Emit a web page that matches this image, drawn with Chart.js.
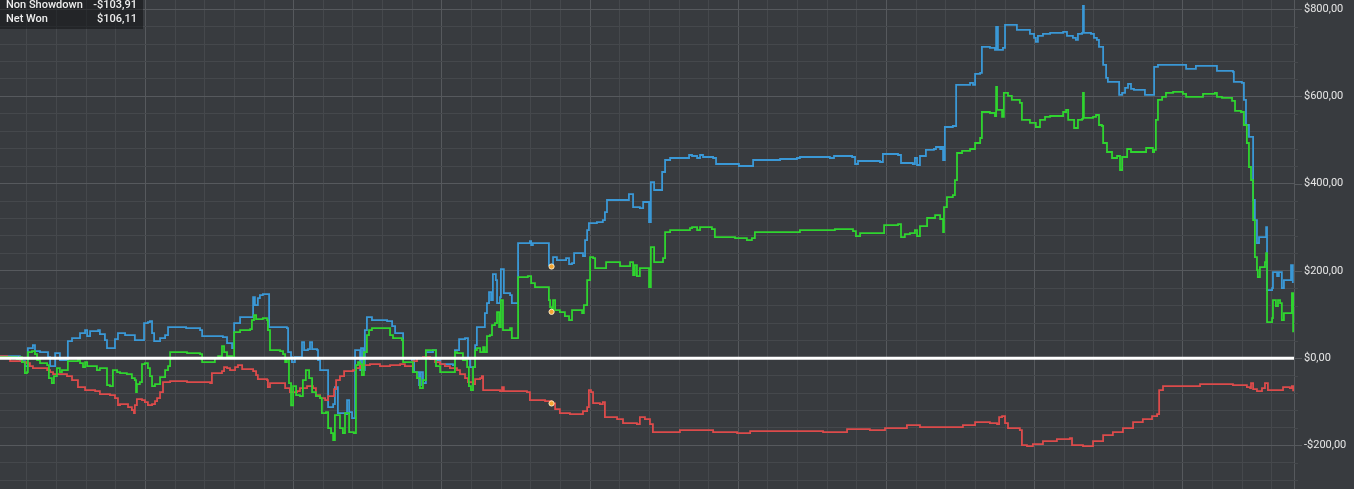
<!DOCTYPE html>
<html>
<head>
<meta charset="utf-8">
<title>Winnings graph</title>
<script src="https://cdn.jsdelivr.net/npm/chart.js@4.4.0/dist/chart.umd.min.js"></script>
<style>
  html, body { margin: 0; padding: 0; background: #383b3f; overflow: hidden; }
  #wrap { width: 1354px; height: 489px; }
</style>
</head>
<body>
<div id="wrap"><canvas id="graph" width="1354" height="489"></canvas></div>
<script>
/* ===================== DATA ===================== */

// Showdown winnings (blue)
const showdownHands = [
  9, 66, 76, 93, 103, 120, 127, 144, 171, 178,
  188, 195, 205, 211, 232, 238, 252, 279, 296, 303,
  313, 333, 340, 346, 363, 370, 387, 397, 407, 431,
  464, 481, 495, 508, 515, 522, 529, 542, 549, 566,
  576, 637, 684, 691, 761, 775, 792, 799, 819, 859,
  863, 869, 879, 886, 896, 913, 917, 977, 981, 991,
  994, 1004, 1021, 1028, 1035, 1048, 1055, 1062, 1079, 1082,
  1089, 1109, 1116, 1133, 1139, 1149, 1176, 1180, 1187, 1197,
  1203, 1207, 1220, 1224, 1227, 1234, 1240, 1247, 1264, 1315,
  1332, 1342, 1365, 1369, 1399, 1406, 1416, 1423, 1429, 1436,
  1446, 1470, 1480, 1494, 1537, 1544, 1551, 1558, 1578, 1588,
  1595, 1605, 1612, 1618, 1639, 1645, 1652, 1659, 1666, 1672,
  1682, 1686, 1696, 1699, 1706, 1709, 1730, 1736, 1750, 1757,
  1797, 1801, 1807, 1855, 1861, 1870, 1875, 1888, 1919, 1929,
  1939, 1946, 1976, 1983, 1990, 1996, 2023, 2043, 2050, 2057,
  2124, 2131, 2138, 2145, 2168, 2179, 2192, 2199, 2205, 2216,
  2232, 2243, 2253, 2270, 2327, 2334, 2344, 2361, 2371, 2381,
  2415, 2425, 2496, 2502, 2540, 2550, 2641, 2698, 2708, 2786,
  2809, 2823, 2884, 2894, 2904, 2978, 2988, 3039, 3049, 3089,
  3096, 3103, 3113, 3133, 3160, 3167, 3181, 3187, 3191, 3197,
  3224, 3235, 3282, 3292, 3299, 3316, 3322, 3349, 3366, 3370,
  3373, 3376, 3393, 3400, 3417, 3440, 3484, 3498, 3504, 3511,
  3528, 3552, 3596, 3609, 3629, 3639, 3646, 3660, 3663, 3666,
  3690, 3700, 3710, 3717, 3727, 3731, 3741, 3747, 3778, 3785,
  3795, 3805, 3815, 3825, 3835, 3865, 3872, 3899, 3903, 3916,
  4000, 4011, 4034, 4044, 4108, 4115, 4169, 4172, 4199, 4206,
  4213, 4223, 4233, 4237, 4243, 4250, 4257, 4277, 4281, 4284,
  4301, 4304, 4318, 4324, 4331, 4334, 4341, 4361, 4365, 4371
];
const showdownValues = [
  4.6, 4.6, -6.9, -18.4, 22.9, 29.8, 16.1, 13.8, 2.3, -18.4,
  -18.4, 11.5, 11.5, -4.6, -4.6, 39, 45.9, 57.4, 64.2, 50.5,
  61.9, 61.9, 64.2, 55.1, 41.3, 22.9, 22.9, 43.6, 57.4, 52.8,
  41.3, 41.3, 80.3, 82.6, 84.9, 57.4, 39, 39, 45.9, 52.8,
  71.1, 68.8, 64.2, 50.5, 48.2, 34.4, 22.9, 80.3, 94.1, 94.1,
  139.9, 121.6, 137.6, 144.5, 146.8, 146.8, 71.1, 68.8, 13.8, 2.3,
  -9.2, 2.3, 2.3, 36.7, 18.4, 20.6, 36.7, 20.6, 18.4, -4.6,
  -27.5, -27.5, -112.4, -105.5, -66.5, -126.2, -128.5, -96.3, -123.9, -137.6,
  -137.6, 18.4, 18.4, -27.5, 22.9, -27.5, 64.2, 94.1, 87.2, 84.9,
  73.4, 57.4, 57.4, 0, -4.6, -32.1, -32.1, -61.9, -32.1, -57.4,
  13.8, 18.4, -4.6, -13.8, -16.1, 18.4, 18.4, 43.6, 45.9, 0,
  -20.6, -20.6, 29.8, 71.1, 71.1, 103.2, 126.2, 151.4, 133.1, 192.7,
  178.9, 126.2, 139.9, 204.2, 204.2, 149.1, 144.5, 126.2, 126.2, 263.8,
  268.4, 259.2, 263.8, 263.8, 213.3, 210.02, 231.7, 224.8, 229.4, 215.6,
  217.9, 240.9, 234.0, 270.7, 293.6, 309.7, 312.0, 316.6, 334.9, 362.5,
  362.5, 376.2, 376.2, 346.4, 344.1, 357.9, 357.9, 312.0, 403.7, 385.4,
  385.4, 426.7, 454.2, 458.8, 458.8, 465.7, 463.4, 458.8, 465.7, 461.1,
  458.8, 445.0, 445.0, 440.4, 440.4, 454.2, 456.5, 458.8, 461.1, 461.1,
  458.8, 463.4, 461.1, 445.0, 451.9, 449.6, 468.0, 465.7, 447.3, 445.0,
  458.8, 442.7, 463.4, 477.2, 479.4, 484.0, 479.4, 484.0, 454.2, 529.9,
  532.2, 626.3, 630.9, 626.3, 651.5, 653.8, 713.4, 711.1, 706.6, 759.3,
  759.3, 706.6, 711.1, 763.9, 763.9, 752.4, 743.3, 734.1, 724.9, 738.7,
  743.3, 745.6, 747.8, 738.7, 734.1, 729.5, 743.3, 745.6, 807.5, 745.6,
  743.3, 734.1, 729.5, 713.4, 713.4, 672.1, 642.3, 633.1, 633.1, 603.3,
  607.9, 619.4, 628.6, 617.1, 614.8, 614.8, 603.3, 603.3, 667.6, 672.1,
  672.1, 663.0, 663.0, 669.9, 669.9, 658.4, 656.1, 633.1, 630.9, 591.9,
  534.5, 507.0, 507.0, 362.5, 316.6, 263.8, 277.6, 277.6, 300.5, 156.0,
  160.6, 197.3, 188.1, 197.3, 197.3, 160.6, 178.9, 178.9, 213.3, 172.1
];

// Net won (green)
const netHands = [
  9, 43, 66, 76, 83, 93, 100, 103, 117, 127,
  134, 144, 168, 174, 184, 191, 201, 211, 218, 232,
  238, 272, 279, 289, 296, 303, 323, 336, 346, 363,
  370, 380, 390, 404, 414, 437, 454, 464, 468, 471,
  481, 488, 498, 508, 515, 522, 532, 549, 566, 576,
  583, 640, 684, 691, 724, 734, 745, 758, 765, 775,
  785, 792, 799, 819, 853, 859, 866, 873, 896, 910,
  913, 920, 954, 964, 971, 977, 984, 991, 998, 1008,
  1021, 1031, 1041, 1052, 1062, 1075, 1089, 1095, 1109, 1116,
  1126, 1133, 1139, 1149, 1156, 1166, 1173, 1180, 1187, 1203,
  1210, 1217, 1224, 1230, 1237, 1247, 1254, 1264, 1315, 1325,
  1335, 1365, 1369, 1392, 1402, 1416, 1426, 1436, 1446, 1473,
  1480, 1494, 1537, 1544, 1551, 1561, 1571, 1585, 1591, 1598,
  1605, 1612, 1618, 1629, 1639, 1645, 1652, 1662, 1669, 1679,
  1686, 1693, 1699, 1706, 1730, 1736, 1753, 1757, 1790, 1801,
  1814, 1855, 1861, 1865, 1870, 1875, 1882, 1898, 1915, 1929,
  1939, 1973, 1979, 1990, 2000, 2010, 2017, 2030, 2043, 2054,
  2067, 2101, 2125, 2135, 2145, 2151, 2158, 2168, 2192, 2199,
  2205, 2216, 2236, 2246, 2253, 2270, 2313, 2337, 2344, 2361,
  2371, 2411, 2421, 2489, 2529, 2546, 2556, 2708, 2786, 2826,
  2887, 2897, 2911, 2978, 2992, 3039, 3049, 3062, 3079, 3096,
  3103, 3113, 3137, 3164, 3181, 3187, 3191, 3194, 3204, 3224,
  3231, 3238, 3255, 3282, 3299, 3316, 3322, 3349, 3366, 3370,
  3373, 3383, 3390, 3396, 3410, 3423, 3450, 3457, 3484, 3504,
  3518, 3535, 3552, 3596, 3606, 3613, 3633, 3646, 3660, 3663,
  3666, 3697, 3707, 3717, 3727, 3731, 3744, 3761, 3778, 3788,
  3795, 3812, 3825, 3865, 3876, 3899, 3903, 3909, 3916, 3930,
  3943, 3967, 4000, 4011, 4034, 4068, 4108, 4115, 4132, 4166,
  4176, 4196, 4206, 4216, 4223, 4230, 4237, 4243, 4250, 4253,
  4260, 4277, 4281, 4284, 4301, 4304, 4314, 4321, 4328, 4334,
  4341, 4361, 4368, 4372
];
const netValues = [
  2.3, 2.3, -2.3, 2.3, -9.2, -34.4, -32.1, 13.8, 16.1, 9.2,
  -4.6, -11.5, -16.1, -45.9, -57.4, -41.3, -22.9, -32.1, -27.5, -27.5,
  -6.9, -4.6, -11.5, -20.6, -9.2, -18.4, -18.4, -27.5, -22.9, -22.9,
  -61.9, -64.2, -27.5, -32.1, -34.4, -36.7, -45.9, -50.5, -78.0, -59.6,
  -55.1, -13.8, -11.5, -22.9, -41.3, -64.2, -59.6, -43.6, -27.5, -18.4,
  13.8, 11.5, 9.2, -9.2, -9.2, 0, 4.6, 27.5, 13.8, 4.6,
  4.6, 0, 59.6, 64.2, 66.5, 87.2, 98.6, 89.5, 91.8, 87.2,
  64.2, 18.4, 16.1, 9.2, -9.2, 0, -57.4, -108.2, -64.2, -84.9,
  -87.2, -50.5, -27.5, -45.9, -78.0, -87.2, -91.8, -126.2, -123.9, -160.6,
  -172.1, -188.1, -130.8, -130.8, -160.6, -172.1, -126.2, -126.2, -169.8, -172.1,
  -16.1, -9.2, -13.8, -39.0, 13.8, 52.8, 64.2, 68.8, 68.8, 52.8,
  45.9, 41.3, -9.2, -9.2, -32.1, -45.9, -68.8, -50.5, 18.4, 18.4,
  -18.4, -32.1, -32.1, 13.8, 11.5, 11.5, -4.6, -20.6, -64.2, -73.4,
  -20.6, 18.4, 22.9, 13.8, 25.2, 13.8, 50.5, 52.8, 75.7, 80.3,
  105.5, 71.1, 133.1, 64.2, 68.8, 45.9, 45.9, 185.8, 188.1, 172.1,
  162.9, 162.9, 133.1, 117.0, 106.11, 133.1, 110.1, 105.5, 96.3, 87.2,
  110.1, 103.2, 121.6, 178.9, 231.7, 229.4, 206.5, 206.5, 206.5, 220.2,
  220.2, 211.0, 211.0, 220.2, 190.4, 213.3, 188.1, 206.5, 206.5, 162.9,
  254.6, 220.2, 220.2, 229.4, 289.0, 293.6, 293.6, 298.2, 300.5, 293.6,
  300.5, 295.9, 277.6, 275.3, 270.7, 275.3, 289.0, 293.6, 293.6, 295.9,
  291.3, 279.9, 286.8, 286.8, 305.1, 307.4, 277.6, 284.5, 286.8, 293.6,
  279.9, 302.8, 321.2, 328.0, 318.9, 318.9, 289.0, 346.4, 369.3, 373.9,
  408.3, 470.3, 474.9, 479.4, 493.2, 504.7, 564.3, 562.0, 555.1, 621.7,
  568.9, 568.9, 552.9, 607.9, 601.0, 591.9, 585.0, 546.0, 539.1, 529.9,
  546.0, 552.9, 555.1, 564.3, 568.9, 546.0, 527.6, 546.0, 548.3, 607.9,
  550.6, 552.9, 557.4, 534.5, 532.2, 493.2, 472.6, 458.8, 463.4, 431.3,
  461.1, 479.4, 472.6, 472.6, 481.7, 472.6, 477.2, 546.0, 591.9, 598.7,
  607.9, 610.2, 605.6, 598.7, 598.7, 605.6, 607.9, 598.7, 596.4, 589.6,
  566.6, 564.3, 534.5, 493.2, 438.2, 408.3, 316.6, 231.7, 201.9, 185.8,
  208.8, 220.2, 240.9, 82.6, 91.8, 133.1, 119.3, 133.1, 126.2, 87.2,
  103.2, 103.2, 149.1, 59.6
];

// Non showdown winnings (red)
const nonShowdownHands = [
  9, 33, 43, 66, 83, 100, 110, 120, 168, 178,
  188, 235, 252, 272, 296, 330, 346, 380, 397, 407,
  414, 441, 454, 461, 464, 471, 488, 498, 508, 522,
  532, 539, 549, 559, 583, 640, 718, 724, 758, 765,
  775, 785, 802, 812, 826, 863, 873, 879, 910, 913,
  920, 960, 971, 987, 1011, 1021, 1045, 1065, 1075, 1089,
  1106, 1116, 1129, 1136, 1143, 1156, 1170, 1200, 1210, 1224,
  1257, 1291, 1325, 1359, 1375, 1392, 1402, 1416, 1436, 1460,
  1477, 1494, 1510, 1527, 1551, 1561, 1578, 1588, 1605, 1612,
  1629, 1635, 1639, 1696, 1703, 1709, 1787, 1797, 1848, 1870,
  1882, 1898, 1932, 1976, 1990, 1996, 2003, 2010, 2033, 2043,
  2050, 2091, 2111, 2158, 2168, 2185, 2202, 2212, 2303, 2371,
  2415, 2496, 2540, 2685, 2786, 2867, 2944, 2988, 2995, 3062,
  3069, 3113, 3191, 3258, 3299, 3349, 3373, 3380, 3390, 3400,
  3410, 3450, 3457, 3474, 3494, 3528, 3575, 3619, 3626, 3663,
  3697, 3731, 3764, 3798, 3832, 3865, 3896, 3913, 3920, 3933,
  4000, 4058, 4125, 4169, 4216, 4227, 4230, 4237, 4250, 4267,
  4277, 4287, 4301, 4338, 4361, 4368, 4372
];
const nonShowdownValues = [
  4.6, 2.3, -6.9, -6.9, -9.2, -11.5, -18.4, -22.9, -27.5, -32.1,
  -36.7, -41.3, -50.5, -66.5, -73.4, -75.7, -82.6, -84.9, -91.8, -107.8,
  -105.5, -112.4, -119.3, -126.2, -107.8, -94.1, -96.3, -100.9, -107.8, -105.5,
  -98.6, -91.8, -78.0, -55.1, -52.8, -55.1, -57.4, -34.4, -29.8, -20.6,
  -22.9, -27.5, -20.6, -16.1, -25.2, -29.8, -39.0, -48.2, -50.5, -66.5,
  -57.4, -57.4, -68.8, -78.0, -75.7, -68.8, -64.2, -68.8, -84.9, -91.8,
  -96.3, -87.2, -87.2, -71.1, -50.5, -41.3, -29.8, -27.5, -22.9, -16.1,
  -13.8, -18.4, -16.1, -13.8, -18.4, -18.4, -6.9, 0, 2.3, -2.3,
  -9.2, -13.8, -18.4, -22.9, -27.5, -36.7, -45.9, -55.1, -59.6, -48.2,
  -45.9, -41.3, -73.4, -75.7, -66.5, -75.7, -78.0, -96.3, -98.6, -103.91,
  -117.0, -126.2, -128.5, -121.6, -112.4, -73.4, -78.0, -103.2, -105.5, -100.9,
  -135.3, -139.9, -149.1, -151.4, -135.3, -139.9, -151.4, -169.8, -165.2, -165.2,
  -169.8, -172.1, -167.5, -167.5, -169.8, -162.9, -165.2, -165.2, -160.6, -160.6,
  -153.7, -158.3, -158.3, -153.7, -146.8, -149.1, -151.4, -135.3, -133.1, -149.1,
  -160.6, -165.2, -199.6, -201.9, -197.3, -190.4, -185.8, -183.5, -199.6, -201.9,
  -190.4, -176.6, -169.8, -160.6, -146.8, -139.9, -133.1, -128.5, -73.4, -64.2,
  -64.2, -59.6, -59.6, -61.9, -66.5, -68.8, -57.4, -71.1, -75.7, -68.8,
  -57.4, -73.4, -73.4, -66.5, -68.8, -64.2, -75.7
];

// axes
const HAND_MIN = 9;
const HAND_MAX = 4375;
const HAND_STEP = 100;
const HAND_MAJOR = 500;
const Y_MIN = -300;
const Y_MAX = 821;
const Y_STEP = 40;
const yLabelTicks = [-200, 0, 200, 400, 600, 800];

// hand that is highlighted in the box top-left
const markerHand = 1870;

/* ===================== HELPERS ===================== */

const GRID_MINOR = "#45484c";
const GRID_MAJOR = "#56595d";

function money(v) {
  const s = "$" + Math.abs(v).toFixed(2).replace(".", ",");
  return v < 0 ? "-" + s : s;
}

function toPoints(hands, values) {
  if (hands.length !== values.length) {
    console.error("[GRAPH] length mismatch", hands.length, values.length);
  }
  return hands.map((h, i) => ({ x: h, y: values[i] }));
}

function lineStyle(color) {
  return {
    borderColor: color,
    borderWidth: 1.8,
    stepped: true,
    fill: false,
    pointRadius: (c) => (c.raw && c.raw.x === markerHand ? 2.6 : 0),
    pointHoverRadius: 0,
    pointBackgroundColor: "#f3a632",
    pointBorderColor: "#fbe6bf",
    pointBorderWidth: 1,
  };
}

/* ===================== PLUGINS ===================== */

// short tick marks right of the plot, longer on labelled values
const sideTicks = {
  id: "sideTicks",
  afterDraw(chart) {
    const s = chart.scales.y;
    const ctx = chart.ctx;
    const x0 = chart.chartArea.right;
    ctx.save();
    s.ticks.forEach((t) => {
      const y = Math.round(s.getPixelForValue(t.value)) + 0.5;
      const major = yLabelTicks.includes(t.value);
      ctx.strokeStyle = major ? GRID_MAJOR : GRID_MINOR;
      ctx.lineWidth = 1;
      ctx.beginPath();
      ctx.moveTo(x0, y);
      ctx.lineTo(x0 + (major ? 8 : 4), y);
      ctx.stroke();
    });
    ctx.restore();
  },
};

// info box with the values of the highlighted hand
const hoverBox = {
  id: "hoverBox",
  afterDraw(chart) {
    const ctx = chart.ctx;
    const i = nonShowdownHands.indexOf(markerHand);
    const j = netHands.indexOf(markerHand);
    const rows = [
      ["Non Showdown", nonShowdownValues[i]],
      ["Net Won", netValues[j]],
    ];
    ctx.save();
    ctx.fillStyle = "rgba(14,15,17,0.5)";
    ctx.fillRect(0, 0, 143, 29);
    ctx.font = "500 11px Roboto";
    ctx.fillStyle = "#eeeeee";
    ctx.textBaseline = "middle";
    rows.forEach((r, k) => {
      const y = 5 + k * 14;
      ctx.textAlign = "left";
      ctx.fillText(r[0], 6, y);
      ctx.textAlign = "right";
      ctx.fillText(money(r[1]), 137, y);
    });
    ctx.restore();
  },
};

/* ===================== CHART ===================== */

new Chart(document.getElementById("graph"), {
  type: "line",
  data: {
    datasets: [
      {
        label: "Zero",
        data: [{ x: HAND_MIN, y: 0 }, { x: HAND_MAX, y: 0 }],
        borderColor: "#ffffff",
        borderWidth: 3,
        pointRadius: 0,
      },
      { label: "Net Won", data: toPoints(netHands, netValues), ...lineStyle("#2fd42f") },
      { label: "Non Showdown", data: toPoints(nonShowdownHands, nonShowdownValues), ...lineStyle("#dc4b4b") },
      { label: "Showdown", data: toPoints(showdownHands, showdownValues), ...lineStyle("#3a98d6") },
    ],
  },
  options: {
    responsive: false,
    animation: false,
    events: [],
    layout: { padding: 0 },
    plugins: { legend: { display: false }, tooltip: { enabled: false } },
    scales: {
      x: {
        type: "linear",
        min: HAND_MIN,
        max: HAND_MAX,
        afterBuildTicks: (s) => {
          const t = [];
          for (let v = HAND_STEP; v < HAND_MAX; v += HAND_STEP) t.push({ value: v });
          s.ticks = t;
        },
        ticks: { display: false, autoSkip: false },
        grid: {
          drawTicks: false,
          color: (c) => (c.tick && c.tick.value % HAND_MAJOR === 0 ? GRID_MAJOR : GRID_MINOR),
        },
        border: { display: false },
        afterFit: (s) => {
          s.height = 0;
          s.paddingLeft = s.paddingRight = 0;
        },
      },
      y: {
        type: "linear",
        position: "right",
        min: Y_MIN,
        max: Y_MAX,
        afterBuildTicks: (s) => {
          const t = [];
          for (let v = -280; v <= 800; v += Y_STEP) t.push({ value: v });
          s.ticks = t;
        },
        ticks: {
          autoSkip: false,
          padding: 10,
          color: "#e6e6e6",
          font: { family: "Roboto", size: 11 },
          callback: (v) => (yLabelTicks.includes(v) ? money(v) : ""),
        },
        grid: {
          drawTicks: false,
          color: (c) => (c.tick && c.tick.value % 200 === 0 ? GRID_MAJOR : GRID_MINOR),
        },
        border: { display: true, color: GRID_MAJOR },
        afterFit: (s) => {
          s.width = 60;
          s.paddingTop = s.paddingBottom = 0;
        },
      },
    },
  },
  plugins: [sideTicks, hoverBox],
});
</script>
</body>
</html>
